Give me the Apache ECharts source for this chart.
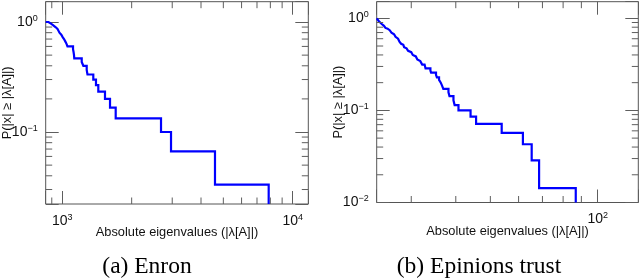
<!DOCTYPE html>
<html><head><meta charset="utf-8">
<script src="https://cdn.jsdelivr.net/npm/echarts@6/dist/echarts.min.js"></script>
<style>html,body{margin:0;padding:0;background:#fff}#c{width:640px;height:279px}</style>
</head><body><div id="c"></div>
<script>
// ---------- (a) Enron ----------
const enronEigen = [871, 893, 914, 934, 953, 972, 990, 1002, 1017, 1030,
  1043, 1053, 1113, 1119, 1124, 1127, 1214, 1234, 1276, 1286,
  1363, 1400, 1433, 1532, 1611, 1705, 2682, 2964, 4600, 7868];
const enronCcdf = [1.0, 0.9667, 0.9333, 0.9, 0.8667, 0.8333, 0.8, 0.7667, 0.7333, 0.7,
  0.6667, 0.6333, 0.6, 0.5667, 0.5333, 0.5, 0.4667, 0.4333, 0.4, 0.3667,
  0.3333, 0.3, 0.2667, 0.2333, 0.2, 0.1667, 0.1333, 0.1, 0.0667, 0.0333];
const enronXRange = [847, 11690];
const enronYRange = [0.02216, 1.53];
const enronXMajor = [1000, 10000];
const enronXMinor = [900, 2000, 3000, 4000, 5000, 6000, 7000, 8000, 9000];
const enronYMajor = [0.1, 1];
const enronYMinor = [0.03, 0.04, 0.05, 0.06, 0.07, 0.08, 0.09, 0.2, 0.3, 0.4, 0.5, 0.6, 0.7, 0.8, 0.9];

// ---------- (b) Epinions trust ----------
const epinEigen = [24.1, 24.2, 24.25, 24.3, 24.35, 24.4, 24.45, 24.55, 24.65, 24.75,
  24.8, 24.95, 25.15, 25.3, 25.4, 25.6, 25.75, 25.9, 26.1, 26.2,
  26.4, 26.55, 26.65, 26.85, 26.95, 27.1, 27.2, 27.4, 27.55, 27.7,
  27.8, 27.95, 28.1, 28.3, 28.5, 28.65, 28.8, 29.1, 29.4, 29.7,
  30.0, 30.3, 30.6, 30.9, 31.2, 31.4, 31.8, 32.2, 32.7, 32.9,
  33.95, 34.1, 35.2, 35.4, 35.9, 36.3, 36.6, 36.9, 38.15, 38.4,
  39.4, 39.7, 40.7, 44.0, 45.6, 53.8, 61.7, 65.3, 68.5, 86.8];
const epinCcdf = [1.0, 0.9857, 0.9714, 0.9571, 0.9429, 0.9286, 0.9143, 0.9, 0.8857, 0.8714,
  0.8571, 0.8429, 0.8286, 0.8143, 0.8, 0.7857, 0.7714, 0.7571, 0.7429, 0.7286,
  0.7143, 0.7, 0.6857, 0.6714, 0.6571, 0.6429, 0.6286, 0.6143, 0.6, 0.5857,
  0.5714, 0.5571, 0.5429, 0.5286, 0.5143, 0.5, 0.4857, 0.4714, 0.4571, 0.4429,
  0.4286, 0.4143, 0.4, 0.3857, 0.3714, 0.3571, 0.3429, 0.3286, 0.3143, 0.3,
  0.2857, 0.2714, 0.2571, 0.2429, 0.2286, 0.2143, 0.2, 0.1857, 0.1714, 0.1571,
  0.1429, 0.1286, 0.1143, 0.1, 0.0857, 0.0714, 0.0571, 0.0429, 0.0286, 0.0143];
const epinXRange = [24.0, 130];
const epinYRange = [0.01, 1.514];
const epinXMajor = [100];
const epinXMinor = [30, 40, 50, 60, 70, 80, 90];
const epinYMajor = [0.01, 0.1, 1];
const epinYMinor = [0.02, 0.03, 0.04, 0.05, 0.06, 0.07, 0.08, 0.09, 0.2, 0.3, 0.4, 0.5, 0.6, 0.7, 0.8, 0.9];

const xTitle = 'Absolute eigenvalues (|λ[A]|)';
const yTitle = 'P(|x| ≥ |λ[A]|)';
const captions = ['(a) Enron', '(b) Epinions trust'];

const SANS = '"Liberation Sans", Arial, Helvetica, sans-serif';
const SERIF = '"Liberation Serif", "Times New Roman", serif';
const BORDER = '#555';
const TICK = '#5e5e5e';
const TXT = '#111';
const MAJ = 13, MINL = 6.5;
const G = [
  { left: 45.7, top: 1.7, width: 262.6, height: 202.3 },
  { left: 376.7, top: 1.7, width: 261.6, height: 200.8 }
];

function isMajor(v, list) { return list.some(m => Math.abs(Math.log10(v) - Math.log10(m)) < 1e-6); }
function powLabel(list) {
  return v => {
    if (!isMajor(v, list)) return '';
    const e = Math.round(Math.log10(v));
    return '{b|10}{s|' + (e < 0 ? '\u2212' + (-e) : e) + '}';
  };
}
const rich = {
  b: { fontSize: 14, fontFamily: SANS, color: TXT, lineHeight: 16 },
  s: { fontSize: 9, fontFamily: SANS, color: TXT, lineHeight: 9, verticalAlign: 'top' }
};

function stepData(eig, ccdf, xr, yr) {
  const d = [[xr[0], ccdf[0]]];
  for (let i = 0; i < eig.length; i++) d.push([eig[i], ccdf[i]]);
  d.push([eig[eig.length - 1], yr[0]]);
  return d;
}

// minor inward ticks as short segments on the log axes
function minorTickSeries(idx, xr, yr, xMin, yMin) {
  const dx = Math.log10(xr[1] / xr[0]) / G[idx].width;
  const dy = Math.log10(yr[1] / yr[0]) / G[idx].height;
  const gap = ['-', '-'];
  const data = [];
  xMin.forEach(v => {
    const f = Math.pow(10, MINL * dy);
    data.push([v, yr[0]], [v, yr[0] * f], gap, [v, yr[1]], [v, yr[1] / f], gap);
  });
  yMin.forEach(v => {
    const f = Math.pow(10, MINL * dx);
    data.push([xr[0], v], [xr[0] * f, v], gap, [xr[1], v], [xr[1] / f, v], gap);
  });
  return {
    type: 'line', xAxisIndex: idx, yAxisIndex: idx, showSymbol: false, symbol: 'none',
    clip: false, silent: true, connectNulls: false, z: 5,
    lineStyle: { color: TICK, width: 1 }, data: data
  };
}

const majorTick = { show: true, inside: true, length: MAJ, lineStyle: { color: TICK, width: 1 } };

function xAxisCfg(idx, range, major) {
  return {
    type: 'log', logBase: 10, gridIndex: idx, min: range[0], max: range[1], position: 'bottom',
    axisLine: { show: false }, axisTick: majorTick, splitLine: { show: false },
    axisLabel: { formatter: powLabel(major), rich: rich, margin: 9 },
    name: xTitle, nameLocation: 'middle', nameGap: 22, nameMoveOverlap: false,
    nameTextStyle: { fontFamily: SANS, fontSize: 12.8, color: TXT }
  };
}
function xTopCfg(idx, range) {
  return {
    type: 'log', logBase: 10, gridIndex: idx, min: range[0], max: range[1], position: 'top',
    axisLine: { show: false }, axisTick: majorTick, splitLine: { show: false }, axisLabel: { show: false }
  };
}
function yAxisCfg(idx, range, major) {
  return {
    type: 'log', logBase: 10, gridIndex: idx, min: range[0], max: range[1], position: 'left',
    axisLine: { show: false }, axisTick: majorTick, splitLine: { show: false },
    axisLabel: { formatter: powLabel(major), rich: rich, margin: 8 },
    name: yTitle, nameLocation: 'middle', nameGap: 32, nameRotate: 90, nameMoveOverlap: false,
    nameTextStyle: { fontFamily: SANS, fontSize: 12.8, color: TXT }
  };
}
function yRightCfg(idx, range) {
  return {
    type: 'log', logBase: 10, gridIndex: idx, min: range[0], max: range[1], position: 'right',
    axisLine: { show: false }, axisTick: majorTick, splitLine: { show: false }, axisLabel: { show: false }
  };
}

const capStyle = { font: '23.5px ' + SERIF, fill: '#000', align: 'center', verticalAlign: 'middle', textAlign: 'center', textVerticalAlign: 'middle' };
const gridBase = { show: true, borderColor: BORDER, borderWidth: 1, backgroundColor: 'transparent', outerBoundsMode: 'none', containLabel: false };

const chart = echarts.init(document.getElementById('c'), null, { renderer: 'canvas' });
chart.setOption({
  animation: false,
  grid: [Object.assign({}, gridBase, G[0]), Object.assign({}, gridBase, G[1])],
  xAxis: [xAxisCfg(0, enronXRange, enronXMajor), xAxisCfg(1, epinXRange, epinXMajor),
          xTopCfg(0, enronXRange), xTopCfg(1, epinXRange)],
  yAxis: [yAxisCfg(0, enronYRange, enronYMajor), yAxisCfg(1, epinYRange, epinYMajor),
          yRightCfg(0, enronYRange), yRightCfg(1, epinYRange)],
  series: [
    { type: 'line', xAxisIndex: 0, yAxisIndex: 0, step: 'start', showSymbol: false, clip: true, z: 4,
      lineStyle: { color: '#0000ff', width: 2.2, join: 'miter', cap: 'butt' },
      data: stepData(enronEigen, enronCcdf, enronXRange, enronYRange) },
    { type: 'line', xAxisIndex: 1, yAxisIndex: 1, step: 'start', showSymbol: false, clip: true, z: 4,
      lineStyle: { color: '#0000ff', width: 2.2, join: 'miter', cap: 'butt' },
      data: stepData(epinEigen, epinCcdf, epinXRange, epinYRange) },
    minorTickSeries(0, enronXRange, enronYRange, enronXMinor, enronYMinor),
    minorTickSeries(1, epinXRange, epinYRange, epinXMinor, epinYMinor)
  ],
  graphic: [
    { type: 'text', x: 147, y: 267, silent: true, style: Object.assign({ text: captions[0] }, capStyle) },
    { type: 'text', x: 479, y: 267, silent: true, style: Object.assign({ text: captions[1] }, capStyle) }
  ]
});
</script></body></html>
